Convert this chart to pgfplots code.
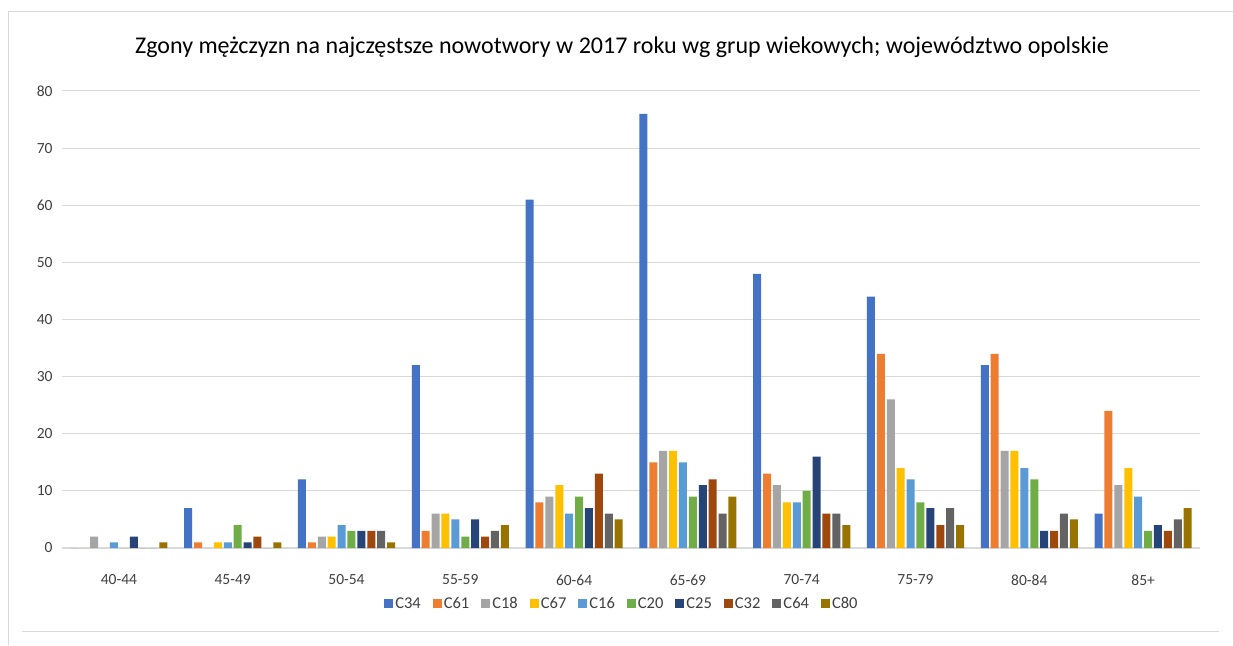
\documentclass[border=0pt]{standalone}
\usepackage{fontspec}
\setmainfont{Carlito}
\usepackage{pgfplots}
\pgfplotsset{compat=1.18}

\definecolor{cA}{HTML}{4472C4}
\definecolor{cB}{HTML}{ED7D31}
\definecolor{cC}{HTML}{A5A5A5}
\definecolor{cD}{HTML}{FFC000}
\definecolor{cE}{HTML}{5B9BD5}
\definecolor{cF}{HTML}{70AD47}
\definecolor{cG}{HTML}{264478}
\definecolor{cH}{HTML}{9E480E}
\definecolor{cI}{HTML}{636363}
\definecolor{cJ}{HTML}{997300}
\definecolor{gridc}{HTML}{D9D9D9}
\definecolor{txt}{HTML}{404040}

% columns: group index, then one column per cancer code
\pgfplotstableread{
x C34 C61 C18 C67 C16 C20 C25 C32 C64 C80
0 0  0  2  0  1  0  2  0  0  1
1 7  1  0  1  1  4  1  2  0  1
2 12 1  2  2  4  3  3  3  3  1
3 32 3  6  6  5  2  5  2  3  4
4 61 8  9  11 6  9  7  13 6  5
5 76 15 17 17 15 9  11 12 6  9
6 48 13 11 8  8  10 16 6  6  4
7 44 34 26 14 12 8  7  4  7  4
8 32 34 17 17 14 12 3  3  6  5
9 6  24 11 14 9  3  4  3  5  7
}\data

\begin{document}
\begin{tikzpicture}
  \useasboundingbox (0pt,0pt) rectangle (1233pt,645pt);
  \fill[white] (0pt,0pt) rectangle (1233pt,645pt);
  % frame remnants of the spreadsheet chart
  \draw[gridc, line width=1pt] (8pt,633pt) -- (1233pt,633pt);
  \draw[gridc, line width=1pt] (8pt,633pt) -- (8pt,0pt);
  \draw[gridc, line width=1pt] (22pt,14pt) -- (1219pt,14pt);
  \node[font=\fontsize{24}{28}\selectfont, anchor=center] at (622pt,598pt)
    {Zgony mężczyzn na najczęstsze nowotwory w 2017 roku wg grup wiekowych; województwo opolskie};
  \begin{axis}[
    at={(62pt,97pt)}, anchor=south west,
    scale only axis,
    width=1138pt, height=457pt,
    xmin=-0.5, xmax=9.5,
    ymin=0, ymax=80,
    ytick={0,10,...,80},
    xtick={0,...,9},
    xticklabels={40-44,45-49,50-54,55-59,60-64,65-69,70-74,75-79,80-84,85+},
    ybar=1.9pt, bar width=8pt,
    axis line style={draw=none},
    axis x line*=bottom,
    tick style={draw=none},
    ymajorgrids, grid style={gridc, line width=1pt},
    ticklabel style={font=\fontsize{15.5}{18}\selectfont, text=txt},
    /pgf/number format/assume math mode=true,
    xticklabel style={yshift=-19pt},
    yticklabel style={xshift=-6pt},
    extra y ticks={0}, extra y tick labels={},
    extra y tick style={grid style={gridc, line width=1.6pt}},
    legend columns=10,
    legend style={at={(0.492,-0.1225)}, anchor=center, draw=none, fill=none,
      font=\fontsize{16.5}{19}\selectfont, text=txt,
      /tikz/every even column/.append style={column sep=10pt}},
    legend image code/.code={\fill (0pt,-4.5pt) rectangle (9pt,4.5pt);},
    every axis plot/.append style={draw=none},
  ]
    \addplot[fill=cA] table[x=x,y=C34]{\data}; \addlegendentry{C34}
    \addplot[fill=cB] table[x=x,y=C61]{\data}; \addlegendentry{C61}
    \addplot[fill=cC] table[x=x,y=C18]{\data}; \addlegendentry{C18}
    \addplot[fill=cD] table[x=x,y=C67]{\data}; \addlegendentry{C67}
    \addplot[fill=cE] table[x=x,y=C16]{\data}; \addlegendentry{C16}
    \addplot[fill=cF] table[x=x,y=C20]{\data}; \addlegendentry{C20}
    \addplot[fill=cG] table[x=x,y=C25]{\data}; \addlegendentry{C25}
    \addplot[fill=cH] table[x=x,y=C32]{\data}; \addlegendentry{C32}
    \addplot[fill=cI] table[x=x,y=C64]{\data}; \addlegendentry{C64}
    \addplot[fill=cJ] table[x=x,y=C80]{\data}; \addlegendentry{C80}
  \end{axis}
\end{tikzpicture}
\end{document}
